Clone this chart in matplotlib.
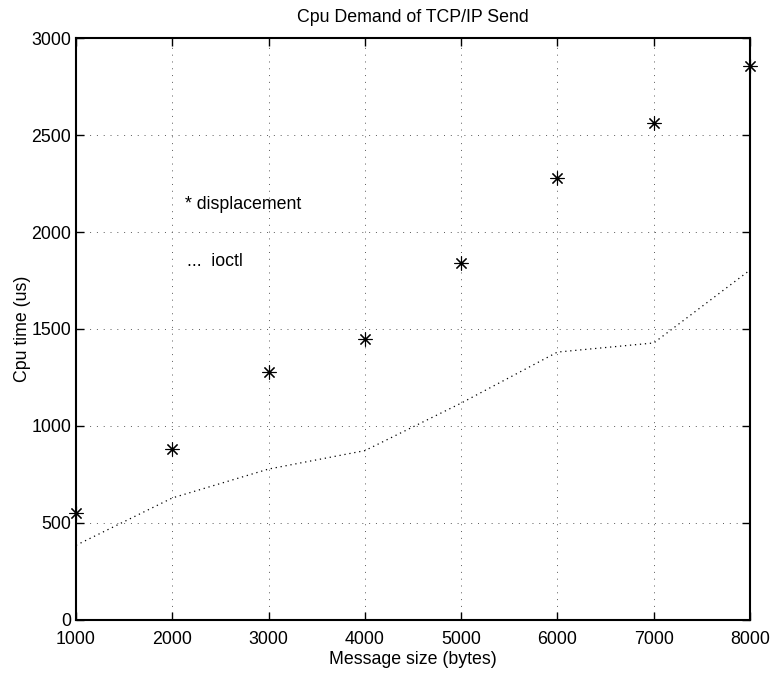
import matplotlib.pyplot as plt

plt.rcParams['font.family'] = ['Liberation Sans', 'DejaVu Sans']

# message sizes (bytes)
sizes = [1000, 2000, 3000, 4000, 5000, 6000, 7000, 8000]
# cpu time, displacement (us)
displacement = [553, 880, 1280, 1448, 1840, 2277, 2560, 2855]
# cpu time, ioctl (us)
ioctl = [385, 629, 778, 873, 1118, 1381, 1428, 1804]

xticks = [1000, 2000, 3000, 4000, 5000, 6000, 7000, 8000]
yticks = [0, 500, 1000, 1500, 2000, 2500, 3000]

fs = 12.8

fig = plt.figure(figsize=(7.71, 6.73), dpi=100)
ax = fig.add_axes([0.0986, 0.0788, 0.8742, 0.8647])

ax.plot(sizes, displacement, linestyle='none', marker=(8, 2, 0),
        markersize=10, markeredgewidth=0.8, color='black', clip_on=False)
ax.plot(sizes, ioctl, color='black', linewidth=0.9,
        linestyle=(0, (1, 3)))

ax.text(2130, 2140, '* displacement', fontsize=fs, va='center', ha='left')
ax.text(2150, 1850, '...  ioctl', fontsize=fs, va='center', ha='left')

ax.set_xlim(1000, 8000)
ax.set_ylim(0, 3000)
ax.set_xticks(xticks)
ax.set_yticks(yticks)
ax.grid(True, color='0.35', linestyle=(0, (1, 6)), linewidth=0.7)
ax.tick_params(direction='in', length=6, width=1, top=True, right=True,
               labelsize=fs)
ax.tick_params(axis='x', pad=8)
ax.tick_params(axis='y', pad=3.5)
for s in ax.spines.values():
    s.set_linewidth(1.5)

ax.set_title('Cpu Demand of TCP/IP Send', fontsize=fs, pad=11.5)
ax.set_xlabel('Message size (bytes)', fontsize=fs, labelpad=2)
ax.set_ylabel('Cpu time (us)', fontsize=fs, labelpad=0.5)

fig.savefig('out.png', dpi=100)
